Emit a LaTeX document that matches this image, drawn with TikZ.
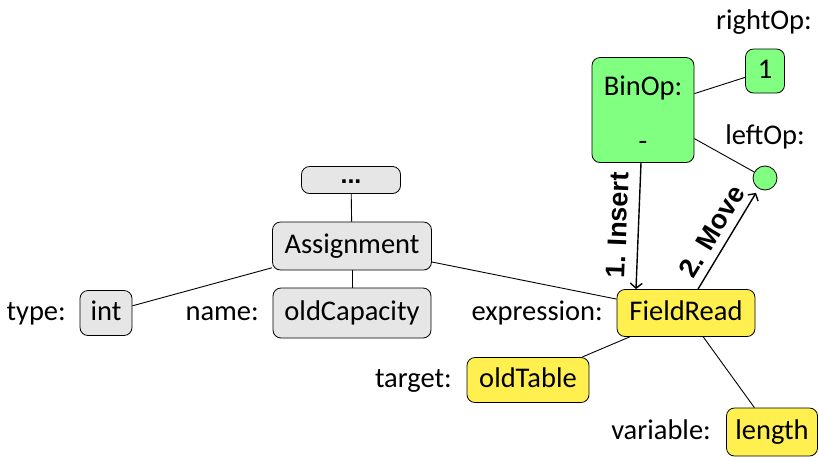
\documentclass[tikz,border=0pt]{standalone}
\usepackage{fontspec}
\setmainfont{Carlito}
\newfontfamily\arrfont{Liberation Sans}
\usetikzlibrary{arrows.meta}
\definecolor{boxgray}{RGB}{230,230,230}
\definecolor{boxgreen}{RGB}{128,255,128}
\definecolor{boxyellow}{RGB}{255,240,80}
\begin{document}
\begin{tikzpicture}[x=1pt,y=-1pt,
  every node/.style={font=\fontsize{28.5}{32}\selectfont, text height=20pt, text depth=5pt, inner sep=0pt},
  box/.style={draw, rounded corners=8pt, line width=0.8pt},
  graybox/.style={box, fill=boxgray},
  greenbox/.style={box, fill=boxgreen},
  yellowbox/.style={box, fill=boxyellow},
  lbl/.style={anchor=east},
  edge/.style={line width=0.9pt},
  arr/.style={line width=1.4pt, -{Straight Barb[length=5pt,width=12pt,line width=1.4pt]}},
  arrlbl/.style={font=\arrfont\bfseries\fontsize{27}{29}\selectfont, text height=20pt, text depth=6pt, inner sep=5pt}
]
\useasboundingbox (0,0) rectangle (819,459);

% nodes
\node[graybox, minimum width=99, minimum height=27, text height=6pt, text depth=0pt,
      font=\arrfont\bfseries\fontsize{25}{27}\selectfont] (dots) at (351,180) {...};
\node[graybox, minimum width=159, minimum height=48] (assign) at (352,246) {Assignment};
\node[graybox, minimum width=158, minimum height=50] (oldcap) at (352,313) {oldCapacity};
\node[graybox, minimum width=52, minimum height=45] (int) at (106,313) {int};
\node[yellowbox, minimum width=138, minimum height=47] (fread) at (686,313) {FieldRead};
\node[yellowbox, minimum width=122, minimum height=45] (oldtab) at (528,380) {oldTable};
\node[yellowbox, minimum width=91, minimum height=48] (len) at (772,432) {length};
\node[greenbox, minimum width=102, minimum height=105] (binop) at (643,110) {};
\node (binoptxt) at (643,87.5) {BinOp:};
\node (binopop) at (643,142.5) {-};
\node[greenbox, minimum width=39, minimum height=44] (one) at (765,71) {1};
\node[draw, circle, fill=boxgreen, line width=0.8pt, minimum size=24, text height=0pt, text depth=0pt] (circ) at (765,178) {};

% labels
\node[lbl] (ltype) at (66,313) {type:};
\node[lbl] (lname) at (259,313) {name:};
\node[lbl] (lexpr) at (603,313) {expression:};
\node[lbl] (ltarget) at (452,380) {target:};
\node[lbl] (lvar) at (711,432) {variable:};
\node (lright) at (764,22) {rightOp:};
\node (lleft) at (765,137) {leftOp:};

% edges
\draw[edge] (dots) -- (assign);
\draw[edge] (assign) -- (oldcap);
\draw[edge] (assign) -- (int);
\draw[edge] (assign) -- (fread);
\draw[edge] (fread) -- (oldtab);
\draw[edge] (fread) -- (len);
\draw[edge] (binop) -- (one);
\draw[edge] (binop) -- (circ);

% arrows
\draw[arr] ([xshift=-2pt]binop.south) -- ([xshift=-50pt]fread.north)
  node[arrlbl, pos=0.5, sloped, above] {1. Insert};
\draw[arr, shorten >=5pt] ([xshift=12pt]fread.north) -- (circ)
  node[arrlbl, pos=0.48, sloped, above, inner sep=2pt] {2. Move};
\end{tikzpicture}
\end{document}
